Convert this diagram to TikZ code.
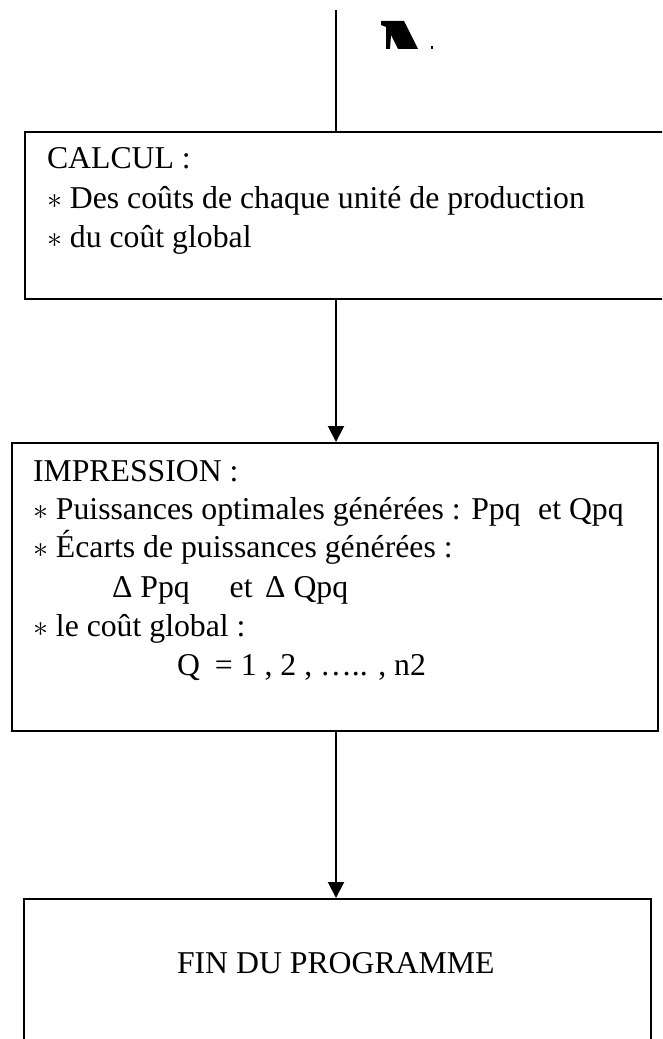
\documentclass[tikz,border=0pt]{standalone}
\usepackage{fontspec}
\setmainfont{Liberation Serif}
\usetikzlibrary{arrows.meta}

\begin{document}
\begin{tikzpicture}[>={Triangle[length=6.4pt,width=6.4pt]},x=0.4pt,y=-0.4pt,line width=0.8pt,
  box/.style={draw,anchor=north west,inner sep=0pt},
  txt/.style={anchor=base west,inner sep=0pt,font=\fontsize{12.7}{15.6}\selectfont}]

  \useasboundingbox (0,0) rectangle (662,1039);
  \clip (0,0) rectangle (662,1039);

  % --- cut-off glyph at the top ---
  \fill (381,21) -- (404,21) -- (418,49) -- (398,49) -- (391,35) -- (390,49) -- (386,49) -- (386,27) -- (381,25) -- cycle;
  \fill (431,46) rectangle (433,49);

  % --- boxes ---
  \coordinate (top) at (336,10);
  \node[box,minimum width=270.4pt,minimum height=66.8pt] (calc) at (24,131) {};
  \node[box,minimum width=258.4pt,minimum height=115.2pt] (impr) at (11,442) {};
  \node[box,minimum width=250.8pt,minimum height=64.8pt]  (fin)  at (23,898) {};

  % --- box texts ---
  \node[txt] (calc1) at (46,169) {CALCUL :};
  \node[txt] (calc2) at (46,208) {$\ast$ Des coûts de chaque unité de production};
  \node[txt] (calc3) at (46,247) {$\ast$ du coût global};

  \node[txt] (impr1) at (32,481) {IMPRESSION :};
  \node[txt] (impr2) at (32,519) {$\ast$ Puissances optimales générées : Ppq\hspace{7pt}et Qpq};
  \node[txt] (impr3) at (32,557) {$\ast$ Écarts de puissances générées :};
  \node[txt] (impr4) at (111,597) {Δ Ppq\hspace{16pt}et\hspace{5pt}Δ Qpq};
  \node[txt] (impr5) at (32,636) {$\ast$ le coût global :};
  \node[txt] (impr6) at (176,675) {Q\hspace{6pt}= 1 , 2 , ….. , n2};

  \node[txt] (fin1) at (176,973) {FIN DU PROGRAMME};

  % --- connectors ---
  \draw (top) -- (top |- calc.north);
  \draw[->] (calc.south -| top) -- (top |- impr.north);
  \draw[->] (impr.south -| top) -- (top |- fin.north);

\end{tikzpicture}
\end{document}
